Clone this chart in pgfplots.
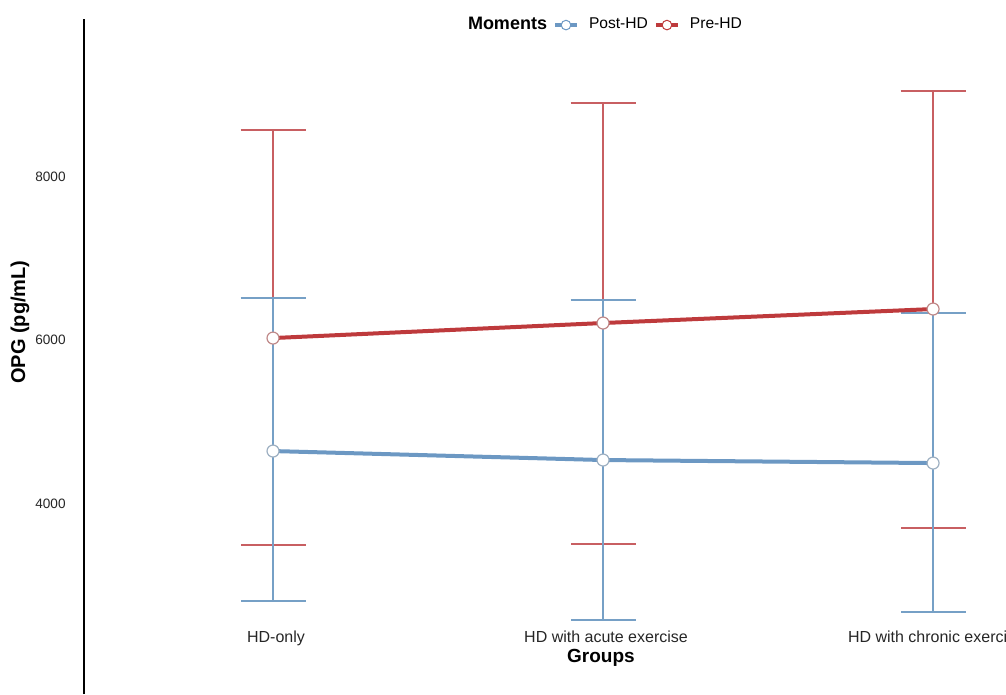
\documentclass[border=0pt]{standalone}
\usepackage{pgfplots}
\pgfplotsset{compat=1.18}
\usepackage{fontspec}
\setmainfont{Liberation Sans}
\definecolor{prered}{RGB}{190,58,60}
\definecolor{postblue}{RGB}{108,152,195}
\definecolor{preerr}{RGB}{200,95,98}
\definecolor{posterr}{RGB}{118,160,198}
\begin{document}
\begin{tikzpicture}
\begin{axis}[
  name=ax,
  scale only axis,
  width=461pt, height=337.5pt,
  xmin=0.4273, xmax=3.221,
  ymin=1670, ymax=9927,
  axis lines*=left,
  x axis line style={draw=none},
  y axis line style={line width=1pt, black},
  xtick={1,2,3},
  xticklabels={HD-only, HD with acute exercise, HD with chronic exercise},
  ytick={4000,6000,8000},
  major tick length=0pt,
  /pgf/number format/assume math mode=true,
  /pgf/number format/set thousands separator={},
  xticklabel style={anchor=base, yshift=26pt, xshift=1.5pt, font=\fontsize{8}{9.5}\selectfont, text=black!85},
  yticklabel style={anchor=east, inner sep=0pt, xshift=-9pt, font=\fontsize{6.8}{8}\selectfont, text=black!85},
  xlabel={\textbf{Groups}},
  ylabel={\textbf{OPG (pg/mL)}},
  every axis x label/.style={at={(axis description cs:0.5607,0)}, anchor=center, yshift=18pt, font=\fontsize{9.5}{11}\selectfont},
  every axis y label/.style={at={(axis description cs:-0.0694,0.551)}, anchor=center, rotate=90, font=\fontsize{10}{12}\selectfont},
  legend columns=3,
  legend style={at={(axis description cs:0.5618,0.991)}, anchor=center, draw=none, fill=none,
    font=\fontsize{7.8}{9.5}\selectfont,
    /tikz/every even column/.append style={column sep=1pt},
    /tikz/every odd column/.append style={column sep=3pt}},
  legend image code/.code={
    \draw[#1, line width=2pt] (0pt,0pt) -- (11pt,0pt);
    \draw[#1, line width=0.5pt, fill=white] (5.5pt,0pt) circle (2.4pt);
  },
  clip=false,
]
% error bars
\addplot[draw=none, forget plot,
  error bars/.cd, y dir=both, y explicit,
  error bar style={line width=0.8pt, preerr},
  error mark options={line width=0.8pt, preerr, mark size=16.25pt, rotate=90}]
coordinates {
  (1,6024) += (0,2545) -= (0,2532)
  (2,6208) += (0,2691) -= (0,2703)
  (3,6379) += (0,2667) -= (0,2679)
};
\addplot[draw=none, forget plot,
  error bars/.cd, y dir=both, y explicit,
  error bar style={line width=0.8pt, posterr},
  error mark options={line width=0.8pt, posterr, mark size=16.25pt, rotate=90}]
coordinates {
  (1,4642) += (0,1872) -= (0,1835)
  (2,4532) += (0,1957) -= (0,1957)
  (3,4495) += (0,1835) -= (0,1822)
};
\addlegendimage{empty legend}
\addlegendentry{\fontsize{9}{11}\selectfont\textbf{Moments}}
\addplot[postblue, line width=2pt, mark=*, mark size=3pt,
  mark options={fill=white, draw=postblue!60!gray!70, line width=0.6pt}]
coordinates {(1,4642) (2,4532) (3,4495)};
\addlegendentry{Post-HD}
\addplot[prered, line width=2pt, mark=*, mark size=3pt,
  mark options={fill=white, draw=prered!60!gray!70, line width=0.6pt}]
coordinates {(1,6024) (2,6208) (3,6379)};
\addlegendentry{Pre-HD}
\coordinate (bl) at (rel axis cs:0,0);
\coordinate (tr) at (rel axis cs:1,1);
\end{axis}
\pgfresetboundingbox
\path[use as bounding box] ([xshift=-42pt]bl) rectangle ([yshift=9.5pt]tr);
\end{tikzpicture}
\end{document}
